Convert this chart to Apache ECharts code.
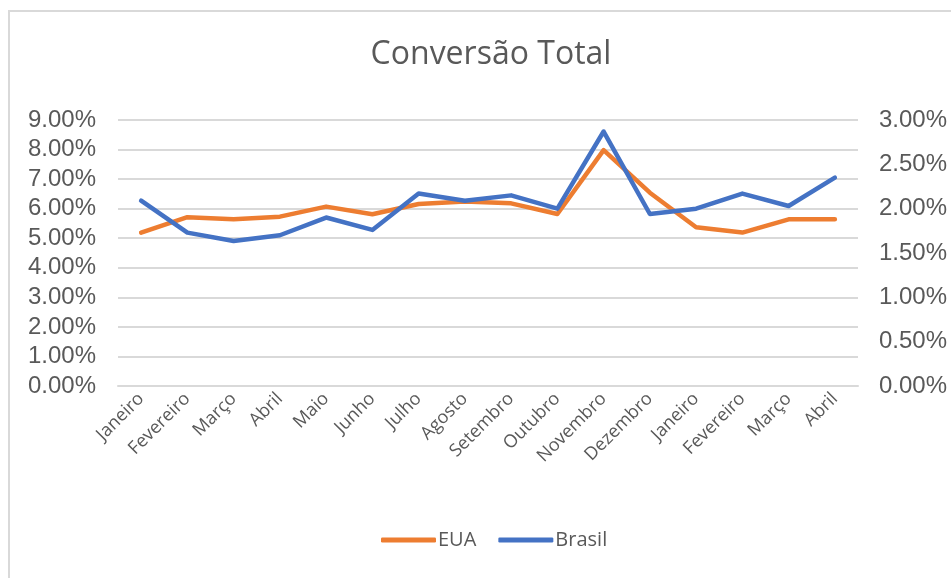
<!DOCTYPE html>
<html>
<head>
<meta charset="utf-8">
<script src="https://cdn.jsdelivr.net/npm/echarts@6/dist/echarts.min.js"></script>
<style>
  html, body { margin: 0; padding: 0; background: #fff; }
  #frame {
    position: absolute; left: 8px; top: 10px; width: 960px; height: 580px;
    border-left: 2px solid #d9d9d9; border-top: 2px solid #d9d9d9;
  }
  #chart { position: absolute; left: 0; top: 0; width: 951px; height: 578px; }
</style>
</head>
<body>
<div id="frame"></div>
<div id="chart"></div>
<script>
const months = ["Janeiro", "Fevereiro", "Março", "Abril", "Maio", "Junho", "Julho", "Agosto",
  "Setembro", "Outubro", "Novembro", "Dezembro", "Janeiro", "Fevereiro", "Março", "Abril"];
// values in %
const eua = [5.19, 5.71, 5.64, 5.73, 6.07, 5.81, 6.16, 6.24, 6.18, 5.82, 7.98, 6.54, 5.37, 5.19, 5.64, 5.64];
const brasil = [2.09, 1.73, 1.635, 1.70, 1.90, 1.76, 2.17, 2.09, 2.15, 2.00, 2.87, 1.94, 2.00, 2.17, 2.03, 2.35];

const grey = "#595959";
const gridColor = "#d9d9d9";

const myChart = echarts.init(document.getElementById("chart"));
const option = {
  animation: false,
  title: {
    text: "Conversão Total",
    left: 486, top: 34, textAlign: "center",
    textStyle: { fontFamily: "Open Sans", fontSize: 32, fontWeight: "normal", color: grey }
  },
  legend: {
    bottom: 23, left: 376,
    icon: "roundRect", itemWidth: 55, itemHeight: 5, itemGap: 22,
    textStyle: { fontFamily: "Open Sans", fontSize: 20, color: grey, padding: [0, 0, 0, -3] },
    data: ["EUA", "Brasil"]
  },
  grid: { left: 118, right: 93, top: 120, bottom: 192 },
  xAxis: {
    type: "category",
    data: months,
    axisLine: { lineStyle: { color: gridColor, width: 2 } },
    axisTick: { show: false },
    axisLabel: {
      rotate: 45, interval: 0, margin: 10,
      fontFamily: "Open Sans", fontSize: 18, color: grey
    }
  },
  yAxis: [
    {
      type: "value", min: 0, max: 9, interval: 1,
      axisLine: { show: false }, axisTick: { show: false },
      splitLine: { lineStyle: { color: gridColor, width: 2 } },
      axisLabel: {
        margin: 22, fontFamily: "Liberation Sans", fontSize: 24, color: grey,
        formatter: v => v.toFixed(2) + "%"
      }
    },
    {
      type: "value", min: 0, max: 3, interval: 0.5,
      axisLine: { show: false }, axisTick: { show: false },
      splitLine: { show: false },
      axisLabel: {
        margin: 21, fontFamily: "Liberation Sans", fontSize: 24, color: grey,
        formatter: v => v.toFixed(2) + "%"
      }
    }
  ],
  series: [
    {
      name: "EUA", type: "line", yAxisIndex: 0, data: eua,
      symbol: "none", color: "#ED7D31",
      lineStyle: { width: 4.5, color: "#ED7D31", cap: "round", join: "round" }
    },
    {
      name: "Brasil", type: "line", yAxisIndex: 1, data: brasil,
      symbol: "none", color: "#4472C4",
      lineStyle: { width: 4.5, color: "#4472C4", cap: "round", join: "round" }
    }
  ]
};
myChart.setOption(option);
window.addEventListener("resize", function () {
  myChart.resize();
});
</script>
</body>
</html>
